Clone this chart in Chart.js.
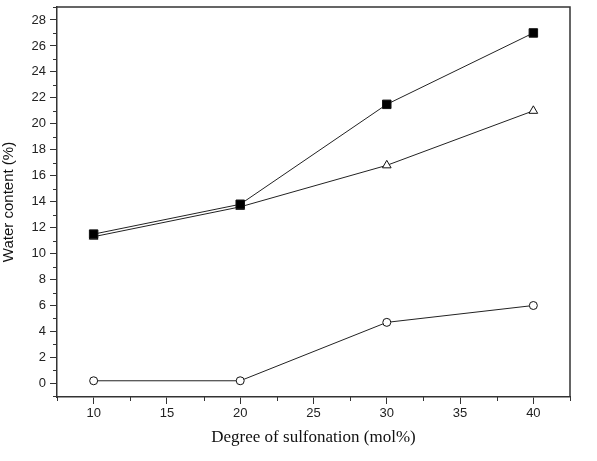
<!DOCTYPE html>
<html>
<head>
<meta charset="utf-8">
<script src="https://cdn.jsdelivr.net/npm/chart.js@4/dist/chart.umd.min.js"></script>
<style>
  html, body { margin: 0; padding: 0; background: #fff; }
  #wrap { width: 597px; height: 461px; }
</style>
</head>
<body>
<div id="wrap"><canvas id="waterChart"></canvas></div>
<script>
// Degree of sulfonation (mol%)
const sulfonation = [10, 20, 30, 40];
// Water content (%) for each sample series
const seriesSquares = [11.5, 13.8, 21.5, 27.0];
const seriesTriangles = [11.3, 13.6, 16.8, 21.0];
const seriesCircles = [0.2, 0.2, 4.7, 6.0];
const xTicks = [10, 15, 20, 25, 30, 35, 40];
const yTicks = [0, 2, 4, 6, 8, 10, 12, 14, 16, 18, 20, 22, 24, 26, 28];

function toPoints(values) {
    return sulfonation.map((x, i) => ({ x: x, y: values[i] }));
}

// draws the top/right frame and the minor ticks
const framePlugin = {
    id: 'frame',
    afterDraw(chart) {
        const c = chart.ctx;
        const a = chart.chartArea;
        const xs = chart.scales.x;
        const ys = chart.scales.y;
        c.save();
        c.strokeStyle = '#333';
        c.lineWidth = 1.5;
        c.beginPath();
        c.moveTo(a.left, a.top);
        c.lineTo(a.right, a.top);
        c.lineTo(a.right, a.bottom);
        c.stroke();
        c.lineWidth = 1;
        c.beginPath();
        for (let v = 7.5; v <= 42.5; v += 5) {
            const px = Math.round(xs.getPixelForValue(v)) + 0.5;
            c.moveTo(px, a.bottom);
            c.lineTo(px, a.bottom + 4);
        }
        for (let v = -1; v <= 29; v += 2) {
            const py = Math.round(ys.getPixelForValue(v)) + 0.5;
            c.moveTo(a.left, py);
            c.lineTo(a.left - 4, py);
        }
        c.stroke();
        c.restore();
    }
};

const common = {
    borderColor: '#222',
    borderWidth: 1,
    pointBorderColor: '#111',
    pointBorderWidth: 1,
    tension: 0
};

const ctx = document.getElementById('waterChart').getContext('2d');
const chart = new Chart(ctx, {
    type: 'line',
    data: {
        datasets: [
            Object.assign({
                label: 'squares',
                data: toPoints(seriesSquares),
                pointStyle: 'rect',
                pointRadius: 6,
                pointBackgroundColor: '#000'
            }, common),
            Object.assign({
                label: 'triangles',
                data: toPoints(seriesTriangles),
                pointStyle: 'triangle',
                pointRadius: 5,
                pointBackgroundColor: '#fff'
            }, common),
            Object.assign({
                label: 'circles',
                data: toPoints(seriesCircles),
                pointStyle: 'circle',
                pointRadius: 4,
                pointBackgroundColor: '#fff'
            }, common)
        ]
    },
    options: {
        responsive: true,
        maintainAspectRatio: false,
        animation: false,
        layout: { padding: { top: 3, right: 27, left: 0, bottom: 9 } },
        plugins: {
            legend: { display: false },
            tooltip: { enabled: false }
        },
        scales: {
            x: {
                type: 'linear',
                min: 7.5,
                max: 42.5,
                afterBuildTicks(scale) {
                    scale.ticks = xTicks.map(v => ({ value: v }));
                },
                afterFit(scale) {
                    scale.height = 55;
                    scale.paddingLeft = 0;
                    scale.paddingRight = 0;
                },
                grid: { drawOnChartArea: false, drawTicks: true, tickLength: 7, color: '#333' },
                border: { display: true, color: '#333', width: 1.5 },
                ticks: {
                    color: '#222',
                    padding: 2,
                    font: { family: 'Liberation Sans', size: 13 }
                },
                title: {
                    display: true,
                    text: 'Degree of sulfonation (mol%)',
                    color: '#111',
                    padding: { top: 2, bottom: 4 },
                    font: { family: 'Liberation Serif', size: 17 }
                }
            },
            y: {
                type: 'linear',
                min: -1.05,
                max: 29,
                afterBuildTicks(scale) {
                    scale.ticks = yTicks.map(v => ({ value: v }));
                },
                afterFit(scale) {
                    scale.width = 57;
                    scale.paddingTop = 0;
                    scale.paddingBottom = 0;
                },
                grid: { drawOnChartArea: false, drawTicks: true, tickLength: 7, color: '#333' },
                border: { display: true, color: '#333', width: 1.5 },
                ticks: {
                    color: '#222',
                    padding: 4,
                    font: { family: 'Liberation Sans', size: 13 }
                },
                title: {
                    display: true,
                    text: 'Water content (%)',
                    color: '#111',
                    padding: { top: 0, bottom: 2 },
                    font: { family: 'Liberation Sans', size: 15 }
                }
            }
        }
    },
    plugins: [framePlugin]
});
</script>
</body>
</html>
